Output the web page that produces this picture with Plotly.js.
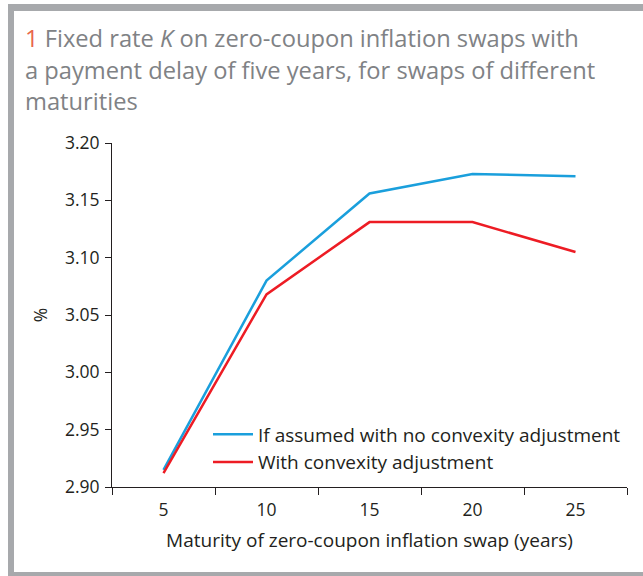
<!DOCTYPE html>
<html>
<head>
<meta charset="utf-8">
<script src="https://cdn.plot.ly/plotly-3.0.1.min.js"></script>
<style>
  html, body { margin: 0; padding: 0; background: #ffffff; }
  #wrap { position: relative; width: 643px; height: 576px; overflow: hidden; }
  .band { position: absolute; background: #a7a9ac; }
  #chart { position: absolute; left: 0; top: 0; width: 643px; height: 576px; }
</style>
</head>
<body>
<div id="wrap">
  <div class="band" style="left:8px; top:4px; width:640px; height:7px;"></div>
  <div class="band" style="left:8px; top:4px; width:6px; height:572px;"></div>
  <div class="band" style="left:8px; top:572px; width:640px; height:4px;"></div>
  <div id="chart"></div>
</div>
<script>
const maturities = ["5", "10", "15", "20", "25"];
const noConvexity = [2.915, 3.080, 3.156, 3.173, 3.171];
const withConvexity = [2.912, 3.068, 3.131, 3.131, 3.105];
const seriesNames = ["If assumed with no convexity adjustment", "With convexity adjustment"];
const titleLines = [
  '<span style="color:#e8664a">1</span> Fixed rate <i>K</i> on zero-coupon inflation swaps with',
  'a payment delay of five years, for swaps of different',
  'maturities'
];

const FONT = "'Open Sans', 'Noto Sans', sans-serif";
const INK = "#231f20";

const traces = [
  { x: maturities, y: noConvexity, name: seriesNames[0], type: "scatter", mode: "lines",
    line: { color: "#1a9fdc", width: 2.5 } },
  { x: maturities, y: withConvexity, name: seriesNames[1], type: "scatter", mode: "lines",
    line: { color: "#ed1c24", width: 2.5 } }
];

const W = 643, H = 576, L = 112, R = 16, T = 143, B = 89;
const ph = H - T - B;
function py(ypx) { return (H - B - ypx) / ph; }
function px(xpx) { return (xpx - L) / (W - L - R); }

const annotations = titleLines.map((t, i) => ({
  text: t, xref: "paper", yref: "paper", x: px(23), y: py([38, 70, 101][i]),
  xanchor: "left", yanchor: "middle", showarrow: false,
  font: { family: FONT, size: 23.7, color: "#808285" }
}));

const layout = {
  width: W, height: H,
  margin: { l: L, r: R, t: T, b: B, pad: 0 },
  paper_bgcolor: "rgba(0,0,0,0)", plot_bgcolor: "rgba(0,0,0,0)",
  showlegend: true,
  legend: {
    x: px(208), y: py(415.5), xanchor: "left", yanchor: "top",
    bgcolor: "rgba(0,0,0,0)", font: { family: FONT, size: 19, color: INK },
    tracegroupgap: 0, itemwidth: 40
  },
  xaxis: {
    type: "category", range: [-0.5, 4.5],
    showgrid: false, zeroline: false,
    showline: true, linecolor: INK, linewidth: 1,
    ticks: "outside", tickson: "boundaries", ticklen: 7, tickcolor: INK, tickwidth: 1,
    ticklabelstandoff: 7,
    tickfont: { family: FONT, size: 17.5, color: INK },
    title: { text: "Maturity of zero-coupon inflation swap (years)", font: { family: FONT, size: 19, color: INK }, standoff: 13 }
  },
  yaxis: {
    range: [2.9, 3.2], dtick: 0.05, tick0: 2.9, tickformat: ".2f",
    showgrid: false, zeroline: false,
    showline: true, linecolor: INK, linewidth: 1,
    ticks: "outside", ticklen: 6, tickcolor: INK, tickwidth: 1,
    ticklabelstandoff: 2,
    tickfont: { family: FONT, size: 17.5, color: INK },
    title: { text: "%", font: { family: FONT, size: 17.5, color: INK }, standoff: 12 }
  },
  annotations: annotations
};

Plotly.newPlot("chart", traces, layout, { displayModeBar: false, staticPlot: true });
</script>
</body>
</html>
